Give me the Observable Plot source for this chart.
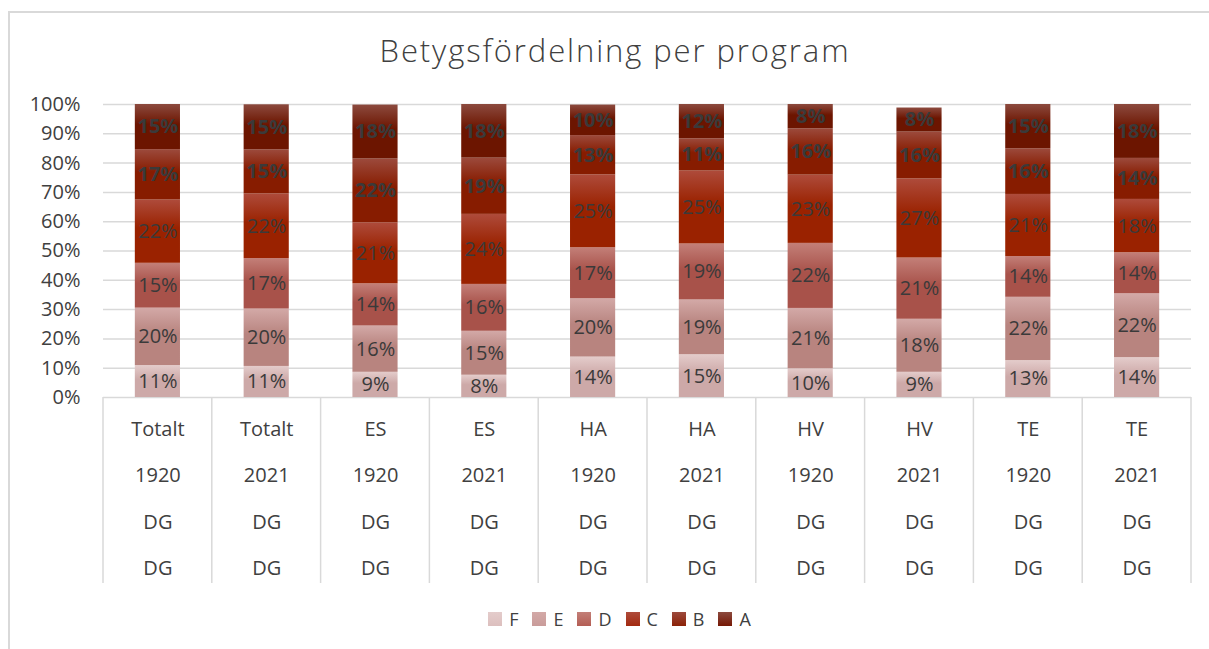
<!DOCTYPE html>
<html>
<head>
<meta charset="utf-8">
<script src="https://cdn.jsdelivr.net/npm/d3@7"></script>
<script src="https://cdn.jsdelivr.net/npm/@observablehq/plot@0.6"></script>
<style>
  html, body { margin: 0; padding: 0; background: #fff; }
  body { width: 1209px; height: 649px; position: relative; overflow: hidden; font-family: "Open Sans", sans-serif; color: #404040; }
  #frame { position: absolute; left: 8px; top: 11px; width: 1400px; height: 800px; border-left: 2px solid #d9d9d9; border-top: 2px solid #d9d9d9; }
  #title { position: absolute; left: 0; top: 29px; width: 1230px; text-align: center; font-size: 31px; font-weight: 300; color: #404040; letter-spacing: 1.9px; }
  #chart { position: absolute; left: 0; top: 80px; }
  #legend { position: absolute; left: 0; top: 607px; width: 1239px; display: flex; justify-content: center; gap: 14px; font-size: 18px; color: #404040; }
  #legend .item { display: flex; align-items: center; gap: 7px; }
  #legend .sw { width: 14px; height: 14px; display: inline-block; }
</style>
</head>
<body>
<div id="frame"></div>
<div id="title">Betygsfördelning per program</div>
<div id="chart"></div>
<div id="legend"></div>
<svg width="0" height="0" style="position:absolute">
  <defs id="grads"></defs>
</svg>
<script>
// ---- data ----
const programs = ["Totalt", "Totalt", "ES", "ES", "HA", "HA", "HV", "HV", "TE", "TE"];
const years    = ["1920", "2021", "1920", "2021", "1920", "2021", "1920", "2021", "1920", "2021"];
const suffix1  = ["DG", "DG", "DG", "DG", "DG", "DG", "DG", "DG", "DG", "DG"];
const suffix2  = ["DG", "DG", "DG", "DG", "DG", "DG", "DG", "DG", "DG", "DG"];
const grades = ["F", "E", "D", "C", "B", "A"];
const valF = [10.9, 10.6, 8.6, 7.6, 13.8, 14.6, 9.8, 8.6, 12.6, 13.6];
const valE = [19.6, 19.6, 15.8, 15.0, 19.9, 18.7, 20.6, 18.1, 21.6, 21.8];
const valD = [15.3, 17.2, 14.4, 16.0, 17.4, 19.1, 22.2, 20.9, 13.9, 14.0];
const valC = [21.6, 22.1, 20.8, 23.9, 24.9, 24.9, 23.3, 27.0, 21.2, 18.2];
const valB = [17.2, 15.0, 21.8, 19.2, 13.4, 11.0, 15.8, 16.0, 15.6, 14.0];
const valA = [15.4, 15.4, 18.4, 18.3, 10.4, 11.7, 8.3, 8.2, 15.1, 18.4];
const yTicks = [0, 10, 20, 30, 40, 50, 60, 70, 80, 90, 100];

// ---- styles ----
const swatch = {F: "#dcbfbe", E: "#c99c9a", D: "#b45e55", C: "#a32a10", B: "#8c2208", A: "#761805"};
const gradTop = {F: "#e4cccb", E: "#d3a9a7", D: "#c37f78", C: "#ae4b3b", B: "#9c4a3c", A: "#8c4a3e"};
const gradBot = {F: "#cda9a8", E: "#b8847f", D: "#a8524a", C: "#9a2200", B: "#871c00", A: "#6c1500"};

// gradients
const defs = d3.select("#grads");
for (const g of grades) {
  const lg = defs.append("linearGradient").attr("id", "g" + g).attr("x1", 0).attr("y1", 0).attr("x2", 0).attr("y2", 1);
  lg.append("stop").attr("offset", "0%").attr("stop-color", gradTop[g]);
  lg.append("stop").attr("offset", "45%").attr("stop-color", gradBot[g]);
  lg.append("stop").attr("offset", "100%").attr("stop-color", gradBot[g]);
}

const cats = programs.map((p, i) => `${p} ${years[i]} #${i}`);
const series = {F: valF, E: valE, D: valD, C: valC, B: valB, A: valA};
const data = [];
cats.forEach((c, i) => {
  for (const g of grades) data.push({cat: c, grade: g, value: series[g][i]});
});
const labelOf = Object.fromEntries(cats.map((c, i) => [c, [programs[i], years[i], suffix1[i], suffix2[i]].join("\n")]));
const boldGrades = new Set(["B", "A"]);

const W = 1209, H = 520;
const plot = Plot.plot({
  width: W,
  height: H,
  marginTop: 24,
  marginBottom: 203,
  marginLeft: 103,
  marginRight: 18,
  style: {fontFamily: "'Open Sans', sans-serif", color: "#404040", background: "transparent", overflow: "visible"},
  x: {type: "band", domain: cats, paddingInner: 0.585, paddingOuter: 0.2925, round: false, axis: null},
  y: {domain: [0, 100], axis: null, label: null},
  color: {domain: grades, range: grades.map(g => `url(#g${g})`)},
  marks: [
    Plot.gridY(yTicks, {stroke: "#d9d9d9", strokeOpacity: 1, strokeWidth: 1.5}),
    Plot.axisY(yTicks, {tickSize: 0, tickPadding: 23, tickFormat: d => d + "%", fontSize: 20, fill: "#404040", label: null}),
    Plot.barY(data, {x: "cat", y: "value", fill: "grade", order: grades}),
    Plot.text(data, Plot.stackY({x: "cat", y: "value", z: "grade", order: grades,
      text: d => boldGrades.has(d.grade) ? null : Math.round(d.value) + "%",
      fontSize: 20, fill: "#3a3a3a"})),
    Plot.text(data, Plot.stackY({x: "cat", y: "value", z: "grade", order: grades,
      text: d => boldGrades.has(d.grade) ? Math.round(d.value) + "%" : null,
      fontSize: 20, fontWeight: "bold", fill: "#3a3a3a"})),
    Plot.text(cats, {x: d => d, text: d => labelOf[d], frameAnchor: "bottom", lineAnchor: "top",
      lineHeight: 46.5 / 20, dy: 5, fontSize: 20, fill: "#404040"})
  ]
});
document.getElementById("chart").appendChild(plot);

// table dividers drawn from the plot's own x scale
const xs = plot.scale("x");
const svg = d3.select(plot.tagName.toLowerCase() === "svg" ? plot : plot.querySelector("svg"));
const gap = xs.step * xs.paddingInner / 2;
const bounds = cats.map(c => xs.apply(c) - gap).concat([xs.apply(cats[cats.length - 1]) + xs.bandwidth + gap]);
const y0 = H - 203;
svg.append("g").selectAll("line").data(bounds).join("line")
  .attr("x1", d => d).attr("x2", d => d)
  .attr("y1", y0).attr("y2", y0 + 186)
  .attr("stroke", "#d9d9d9").attr("stroke-width", 1.5);

// legend
const leg = d3.select("#legend");
for (const g of grades) {
  const it = leg.append("div").attr("class", "item");
  it.append("span").attr("class", "sw").style("background", `linear-gradient(${gradTop[g]}, ${swatch[g]})`);
  it.append("span").text(g);
}
</script>
</body>
</html>
